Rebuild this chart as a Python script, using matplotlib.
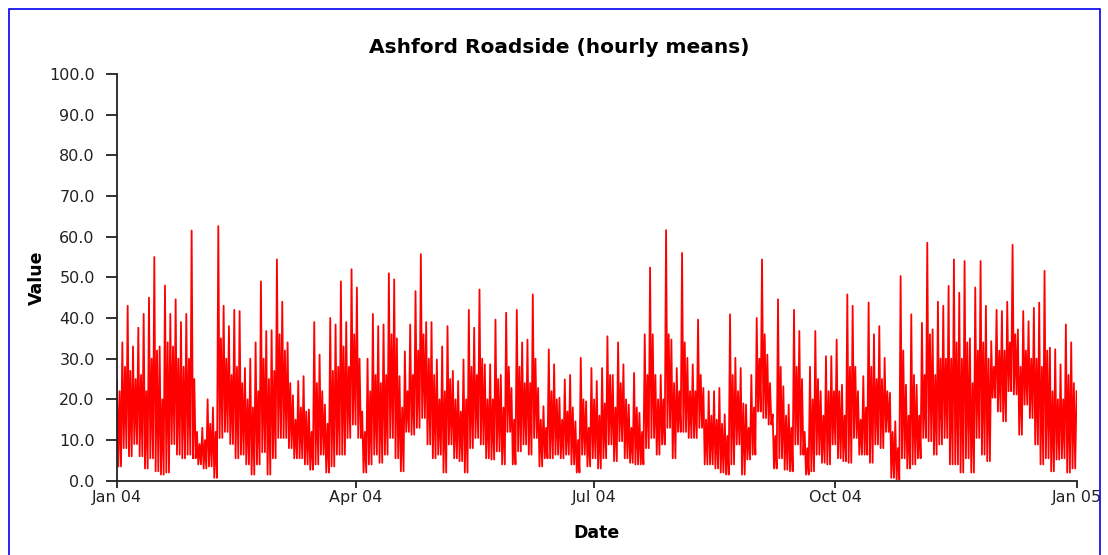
import numpy as np
import pandas as pd
import matplotlib
matplotlib.use('Agg')
import matplotlib.pyplot as plt
import matplotlib.dates as mdates
from matplotlib.patches import Rectangle

# values, one group per ~2 days:
# peak, trough, top of the dense band
highs = [
    # Jan - Mar
    25, 34, 43, 33, 37.6, 41, 45, 55, 33, 48, 41, 44.6, 39, 41, 61.5,
    12, 13, 20, 18, 62.6, 43, 38, 42, 41.7, 27.7, 30, 34, 49, 36.8, 37,
    54.4, 44, 34, 21, 24.5, 25.7, 17.5, 39, 31, 18.7, 40, 38.4, 49, 39, 52,
    # Apr - Jun
    47.5, 17, 30, 41, 38, 38.4, 51, 49.5, 25.7, 31.8, 38.4, 46.6, 55.7, 39, 39,
    29.8, 33, 38, 27, 24.5, 29.8, 42, 37.6, 47, 28.6, 28.6, 39.6, 26, 41.3, 22.8,
    42, 34, 34.7, 45.8, 22.8, 18.3, 32.3, 28.6, 20.4, 24.9, 26, 14.6, 30.2, 19.5, 27.7,
    # Jul - Sep
    24.5, 27.7, 35.5, 26, 34, 28.6, 18.7, 26.5, 16.7, 36, 52.4, 26, 26, 61.6, 34.7,
    27.7, 56, 30.2, 28.6, 39.6, 22.8, 22, 22, 22.8, 16.3, 40.9, 30.2, 27.7, 18.7, 26,
    40, 54.4, 31, 16.3, 44.6, 23.2, 18.7, 42, 36.8, 12, 28, 36.8, 22, 30.6, 30.6,
    # Oct - Dec
    34.7, 23.6, 45.8, 43, 22, 25.7, 43.8, 36, 38, 30.2, 21.6, 14.6, 50.3, 23.6, 40.9,
    23.6, 38.8, 58.5, 37.2, 44, 43, 47.9, 54.4, 46.2, 54, 35, 47.5, 54, 43, 34.3,
    42, 41.7, 44, 58, 37.2, 41.7, 39.2, 42.5, 43.8, 51.6, 32.7, 32.3, 28.6, 38.4, 34,
]
lows = [
    # Jan - Mar
    3.5, 8, 6, 9, 6, 3, 5.5, 2.3, 1.5, 2, 9, 6.4, 5.5, 6.4, 5.5,
    4, 3, 3.5, 0.7, 10.5, 12, 9, 5.5, 6.4, 4, 1.5, 4, 7, 1.5, 5.5,
    10.5, 10.5, 8, 5.5, 5.5, 4, 2.7, 4, 6.4, 2, 3.5, 6.4, 6.4, 10.5, 13.8,
    # Apr - Jun
    10.5, 2, 4, 6.4, 4.4, 6.4, 10.5, 5.5, 2.3, 12, 11.3, 13, 15.4, 8.9, 5.5,
    6.4, 2, 8.9, 5.5, 4.8, 2, 8, 10.5, 8.9, 5.5, 5.2, 7.2, 4, 12, 4,
    7.2, 8.9, 6.4, 10.5, 3.5, 5.5, 5.5, 6.4, 5.5, 6.4, 4, 2, 6.4, 3.5, 5.5,
    # Jul - Sep
    3, 5.5, 8.9, 4.8, 9.7, 5.5, 4.4, 4, 4, 8, 10.5, 6.4, 8.9, 13, 5.5,
    12, 12, 10.5, 10.5, 13, 4, 4, 3, 2, 1.5, 4, 8.9, 1.5, 5.2, 6.4,
    17, 15.4, 13.8, 3, 5.5, 2.7, 2.3, 8.9, 6.4, 1.5, 2.3, 6.4, 4.4, 4, 8.9,
    # Oct - Dec
    5.5, 4.8, 4.4, 10.5, 6.4, 6.4, 4.4, 8.9, 8, 12, 0.7, 0.3, 5.5, 3, 4,
    5.5, 10.5, 9.7, 6.4, 8.9, 10.5, 4, 4, 2, 5.5, 2, 10.5, 6.4, 4.8, 20.4,
    17, 14.6, 22, 21.2, 11.3, 18.7, 15.4, 8.9, 4, 5.5, 2.3, 5.2, 5.5, 2, 3,
]
bands = [
    # Jan - Mar
    22, 28, 27, 25, 26, 22, 30, 32, 20, 34, 33, 30, 28, 30, 25,
    9, 10, 14, 12, 35, 30, 26, 28, 24, 20, 18, 22, 30, 25, 27,
    36, 32, 24, 15, 18, 17, 12, 24, 22, 14, 27, 28, 33, 28, 36,
    # Apr - Jun
    30, 12, 22, 26, 24, 26, 36, 35, 18, 22, 26, 32, 36, 30, 26,
    20, 22, 25, 20, 17, 20, 28, 26, 30, 20, 20, 25, 18, 28, 15,
    28, 24, 24, 30, 15, 13, 22, 20, 15, 17, 18, 10, 20, 13, 20,
    # Jul - Sep
    16, 19, 26, 18, 24, 20, 13, 18, 12, 26, 36, 20, 20, 36, 24,
    22, 34, 22, 22, 26, 15, 16, 15, 14, 11, 26, 22, 19, 13, 18,
    30, 36, 24, 11, 28, 16, 13, 28, 25, 8, 20, 25, 16, 22, 22,
    # Oct - Dec
    22, 16, 28, 28, 15, 18, 28, 25, 25, 22, 12, 8, 32, 16, 26,
    16, 26, 36, 26, 30, 30, 30, 34, 30, 34, 24, 32, 34, 30, 28,
    32, 32, 34, 36, 28, 32, 30, 30, 28, 32, 22, 20, 20, 26, 24,
]
last_value = 22

values = []
for h, l, b in zip(highs, lows, bands):
    values += [h, l, b, l]
values.append(last_value)
times = pd.to_datetime(np.linspace(pd.Timestamp('2004-01-01').value,
                                   pd.Timestamp('2005-01-01').value, len(values)))

plt.rcParams['font.family'] = ['DejaVu Sans']

fig = plt.figure(figsize=(11.08, 5.55), dpi=100)
ax = fig.add_axes([0.1056, 0.1339, 0.8660, 0.7328])

ax.plot(times, values, color='#ff0000', linewidth=1.3)

ax.set_ylim(0, 100)
ax.set_yticks(np.arange(0, 101, 10))
ax.yaxis.set_major_formatter(matplotlib.ticker.FormatStrFormatter('%.1f'))
ax.set_xlim(pd.Timestamp('2004-01-01'), pd.Timestamp('2005-01-01'))
ticks = pd.to_datetime(['2004-01-01', '2004-04-01', '2004-07-01', '2004-10-01', '2005-01-01'])
ax.set_xticks(ticks)
ax.xaxis.set_major_formatter(mdates.DateFormatter('%b %y'))

for s in ['top', 'right']:
    ax.spines[s].set_visible(False)
for s in ['left', 'bottom']:
    ax.spines[s].set_linewidth(1.3)
    ax.spines[s].set_color('#222222')
ax.tick_params(axis='y', length=8, width=1.3, labelsize=11.5, pad=8, colors='#222222')
ax.tick_params(axis='x', length=5, width=1.3, labelsize=11.5, pad=2, colors='#222222')

fig.text(559 / 1108, 1 - 53 / 555, 'Ashford Roadside (hourly means)',
         ha='center', va='baseline', fontsize=14.5, fontweight='bold')
ax.set_ylabel('Value', fontsize=12.5, fontweight='bold')
ax.set_xlabel('Date', fontsize=12.5, fontweight='bold')
ax.yaxis.set_label_coords(-0.074, 0.5)
ax.xaxis.set_label_coords(0.5, -0.106)

fig.patches.append(Rectangle((8.5 / 1108, -0.05), 1091 / 1108, 1 - 8.5 / 555 + 0.05,
                             transform=fig.transFigure, fill=False,
                             edgecolor='#0000ee', linewidth=1.2))

fig.savefig('out.png', dpi=100)
